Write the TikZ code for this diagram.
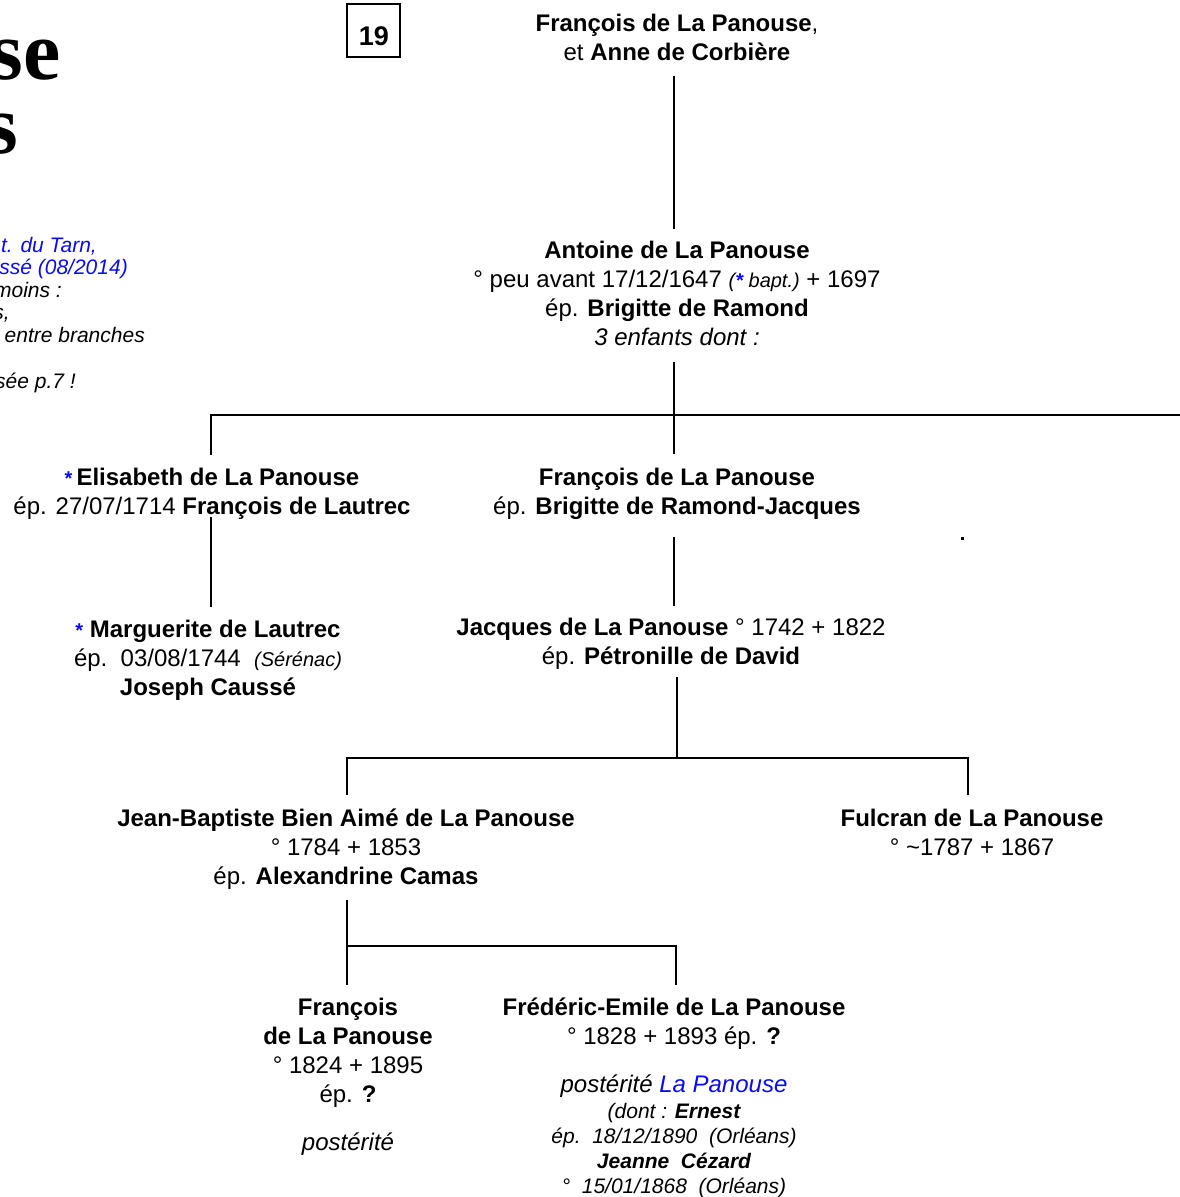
\documentclass[tikz,border=0pt]{standalone}
\usepackage{fontspec}
\setmainfont{Liberation Sans}
\newfontfamily\titlefont{Liberation Serif}
\definecolor{lnkblue}{RGB}{10,10,245}
\begin{document}
\begin{tikzpicture}[x=1pt,y=-1pt,
  person/.style={anchor=north, yshift=20.3pt, align=center, inner sep=0pt, font=\fontsize{24}{29}\selectfont},
  smallperson/.style={anchor=north, yshift=17.5pt, align=center, inner sep=0pt, font=\itshape\fontsize{21}{25}\selectfont},
  note/.style={anchor=base east, inner sep=0pt, font=\itshape\fontsize{21}{23}\selectfont},
  titletext/.style={anchor=base east, inner sep=0pt, font=\titlefont\bfseries\fontsize{84}{84}\selectfont},
  link/.style={line width=2.9pt}]
\useasboundingbox (0,0) rectangle (1180,1197);
% title fragments and notes at the cut left edge
\node[titletext] (t1) at (61,79) {se};
\node[titletext] (t2) at (18,153) {s};
\node[note, text=lnkblue] (n1) at (97,252) {t. du Tarn,};
\node[note, text=lnkblue] (n2) at (128,274) {ssé (08/2014)};
\node[note] (n3) at (62,297) {moins :};
\node[note] (n4) at (10,319) {s,};
\node[note] (n5) at (145,342) {entre branches};
\node[note] (n6) at (76,388) {sée p.7 !};
% page number box
\node[draw, line width=1.2pt, minimum width=53pt, minimum height=53pt, inner sep=0pt] (p19) at (373.5,30.5) {};
\node[anchor=base, inner sep=0pt, font=\bfseries\fontsize{27}{30}\selectfont] (p19t) at (374,45) {19};
% persons
\node[person] (top) at (677,31) {\strut\textbf{François de La Panouse},\\ et \textbf{Anne de Corbière}};
\node[person] (antoine) at (677,258) {\strut\textbf{Antoine de La Panouse}\\
  °\ peu\ avant\ 17/12/1647\ {\fontsize{20}{24}\selectfont\itshape(\textcolor{lnkblue}{\bfseries*} bapt.)}\ +\ 1697\\
  ép. \textbf{Brigitte de Ramond}\\ \textit{3 enfants dont :}};
\node[person] (elis) at (212,485) {\strut\textcolor{lnkblue}{\fontsize{20}{24}\selectfont\bfseries*}\,\textbf{Elisabeth de La Panouse}\\
  ép. 27/07/1714 \textbf{François de Lautrec}};
\node[person] (fran2) at (677,485) {\strut\textbf{François de La Panouse}\\ ép. \textbf{Brigitte de Ramond-Jacques}};
\node[person] (marg) at (208,637) {\strut\textcolor{lnkblue}{\fontsize{20}{24}\selectfont\bfseries*} \textbf{Marguerite de Lautrec}\\
  ép.\ \ 03/08/1744 \ {\fontsize{20}{24}\selectfont\itshape(Sérénac)}\\ \textbf{Joseph Caussé}};
\node[person] (jacq) at (671,635) {\strut\textbf{Jacques de La Panouse} ° 1742 + 1822\\ ép. \textbf{Pétronille de David}};
\node[person] (jb) at (346,826) {\strut\textbf{Jean-Baptiste Bien Aimé de La Panouse}\\ ° 1784 + 1853\\ ép. \textbf{Alexandrine Camas}};
\node[person] (ful) at (972,826) {\strut\textbf{Fulcran de La Panouse}\\ ° \textasciitilde1787 + 1867};
\node[person] (fr3) at (348,1015) {\strut\textbf{François}\\ \textbf{de La Panouse}\\ ° 1824 + 1895\\ ép. \textbf{?}};
\node[person] (fr3p) at (348,1150) {\strut\textit{postérité}};
\node[person] (fred) at (674,1015) {\strut\textbf{Frédéric-Emile de La Panouse}\\ ° 1828 + 1893 ép. \textbf{?}};
\node[person] (fredp) at (674,1092) {\strut\textit{postérité \textcolor{lnkblue}{La Panouse}}};
\node[smallperson] (fredd) at (674,1118) {\strut(dont : \textbf{Ernest}\\ ép.\ \ 18/12/1890\ \ (Orléans)\\ \textbf{Jeanne\ \ Cézard}\\ °\ \ 15/01/1868\ \ (Orléans)};
\node[fill, inner sep=0pt, minimum size=3pt] (dot) at (962,538) {};
% connector points
\coordinate (a1) at (674,76);   \coordinate (a2) at (674,229);
\coordinate (b1) at (674,362);  \coordinate (b2) at (674,454);
\coordinate (barL) at (211,415); \coordinate (barR) at (1180,415);
\coordinate (e1) at (211,455);
\coordinate (e2) at (211,517);  \coordinate (e3) at (211,607);
\coordinate (f1) at (674,537);  \coordinate (f2) at (674,606);
\coordinate (j1) at (677,677);  \coordinate (j2) at (677,758);
\coordinate (k1) at (347,758);  \coordinate (k2) at (968,758);
\coordinate (k3) at (347,795);  \coordinate (k4) at (968,795);
\coordinate (m1) at (347,900);  \coordinate (m2) at (347,985);
\coordinate (m3) at (347,946);  \coordinate (m4) at (676,946);
\coordinate (m5) at (676,985);
\draw[link] (a1) -- (a2);
\draw[link] (b1) -- (b2);
\draw[link] (e1) -- (barL) -- (barR);
\draw[link] (e2) -- (e3);
\draw[link] (f1) -- (f2);
\draw[link] (j1) -- (j2);
\draw[link] (k3) -- (k1) -- (k2) -- (k4);
\draw[link] (m1) -- (m2);
\draw[link] (m3) -- (m4) -- (m5);
\end{tikzpicture}
\end{document}
